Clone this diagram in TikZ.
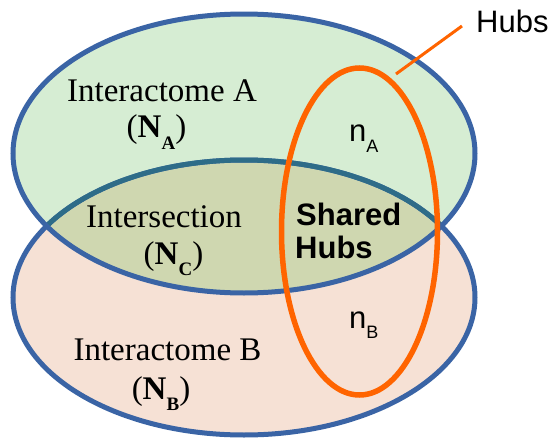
\documentclass[tikz,border=0pt]{standalone}
\usepackage{fontspec}
\setmainfont{Liberation Serif}
\newfontfamily\arial{Liberation Sans}
\definecolor{setblue}{RGB}{58,100,165}
\definecolor{arcteal}{RGB}{46,108,136}
\definecolor{fillA}{RGB}{214,237,211}
\definecolor{fillB}{RGB}{246,225,213}
\definecolor{fillC}{RGB}{207,215,176}
\definecolor{hubcol}{RGB}{255,100,0}
\newcommand{\subsz}{\fontsize{19}{19}\selectfont\bfseries}
\newcommand{\ssubsz}{\fontsize{18}{18}\selectfont}
\begin{document}
\begin{tikzpicture}[x=1pt,y=-1pt,
  outline/.style={line width=5pt},
  serif/.style={font=\fontsize{33}{33}\selectfont, inner sep=0pt, anchor=base},
  sans/.style={font=\arial\fontsize{31}{31}\selectfont, inner sep=0pt, anchor=base west},
  boldsans/.style={font=\arial\bfseries\fontsize{31}{31}\selectfont, inner sep=0pt, anchor=base west},
  setA/.style={insert path={(244,153.5) ellipse [x radius=231pt, y radius=139.5pt]}},
  setB/.style={insert path={(244,297.5) ellipse [x radius=231pt, y radius=137.5pt]}}]
\useasboundingbox (0,0) rectangle (552,439);

% set fills: B, A, and their overlap
\fill[fillB, setB];
\fill[fillA, setA];
\begin{scope}
  \clip[setA];
  \fill[fillC, setB];
\end{scope}

% outlines: B's upper arc inside A is tinted
\draw[outline, setblue, setB];
\begin{scope}
  \clip[setA];
  \draw[outline, arcteal, setB];
\end{scope}
\draw[outline, setblue, setA];

% hub set and its callout
\draw[line width=5.5pt, hubcol] (359.5,231.5) ellipse [x radius=78pt, y radius=163.5pt];
\coordinate (hubtip) at (396,74);
\coordinate (hubend) at (462,26);
\draw[line width=3pt, hubcol] (hubtip) -- (hubend);
\node[font=\arial\fontsize{31}{31}\selectfont, inner sep=0pt, anchor=base west] (hubs) at (476,32) {Hubs};

% labels
\node[serif] (ia) at (162,101) {Interactome A};
\node[serif] (na) at (156.5,137) {(\textbf{N}\raisebox{-12pt}{\subsz A})};
\node[serif] (ic) at (164,227) {Intersection};
\node[serif] (nc) at (173.5,264) {(\textbf{N}\raisebox{-11pt}{\subsz C})};
\node[serif] (ib) at (167.5,360) {Interactome B};
\node[serif] (nb) at (161,399) {(\textbf{N}\raisebox{-11pt}{\subsz B})};

\node[sans] (sa) at (349,141) {n\raisebox{-11pt}{\ssubsz A}};
\node[sans] (sb) at (349,328) {n\raisebox{-10pt}{\ssubsz B}};
\node[boldsans] (sh1) at (296,225) {Shared};
\node[boldsans] (sh2) at (295,258) {Hubs};
\end{tikzpicture}
\end{document}
